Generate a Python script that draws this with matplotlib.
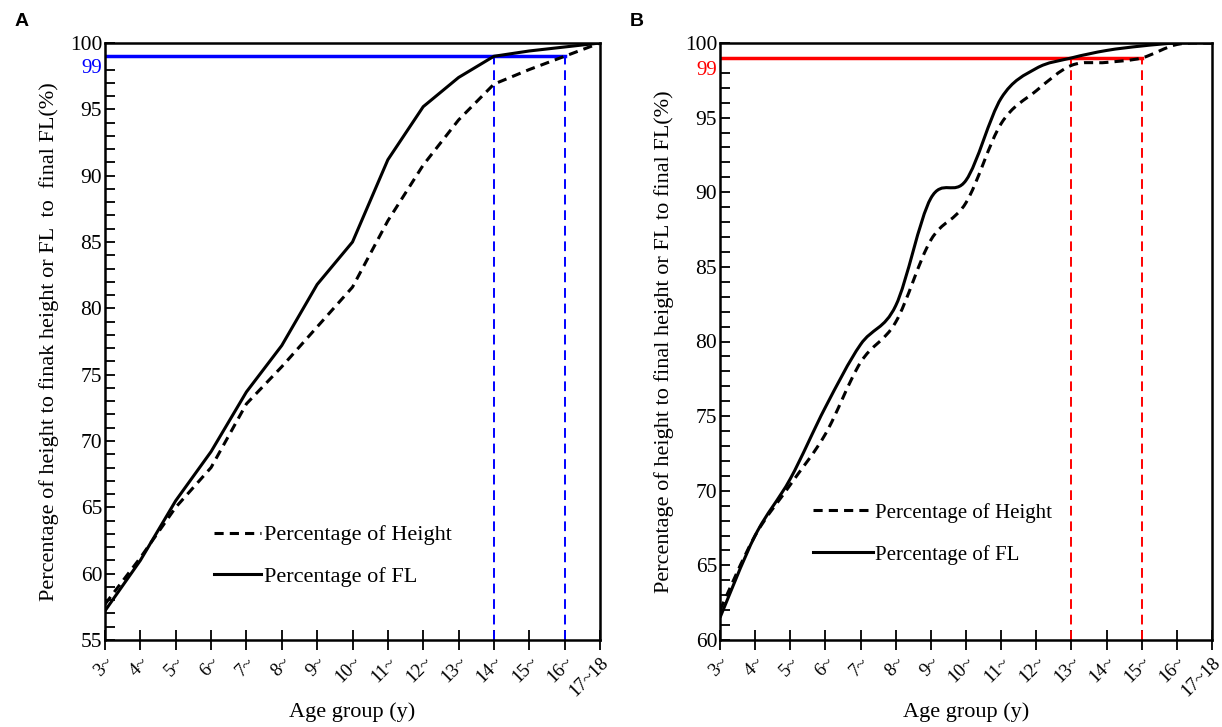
import matplotlib.pyplot as plt
from matplotlib.path import Path
from matplotlib.patches import PathPatch
from matplotlib.lines import Line2D
from matplotlib.ticker import MultipleLocator
import numpy as np

plt.rcParams['font.family'] = ['Liberation Serif', 'DejaVu Serif']

age_groups = ['3~', '4~', '5~', '6~', '7~', '8~', '9~', '10~', '11~', '12~',
              '13~', '14~', '15~', '16~', '17~18']

# panel A
height_a = [57.7, 61.2, 65.0, 68.0, 72.8, 75.6, 78.6, 81.6, 86.6, 90.8, 94.2, 96.9, 98.0, 99.0, 100.0]
fl_a = [57.2, 61.0, 65.5, 69.2, 73.7, 77.2, 81.8, 85.0, 91.2, 95.2, 97.4, 99.0, 99.4, 99.7, 100.0]
cut_a = [11, 13]          # 14~ and 16~

# panel B
height_b = [62.0, 67.0, 70.4, 73.8, 78.6, 81.3, 86.8, 89.3, 94.6, 96.8, 98.5, 98.7, 99.0, 99.9, 100.0]
fl_b = [61.5, 67.0, 70.8, 75.6, 79.8, 82.4, 89.6, 90.8, 96.3, 98.3, 99.0, 99.5, 99.8, 100.0, 100.0]
cut_b = [10, 12]          # 13~ and 15~

legend_labels = ['Percentage of Height', 'Percentage of FL']


def smooth_path(x, y):
    # Catmull-Rom style smoothing turned into cubic bezier segments
    p = np.column_stack([x, y]).astype(float)
    n = len(p)
    verts = [p[0]]
    codes = [Path.MOVETO]
    for i in range(n - 1):
        p0 = p[i - 1] if i > 0 else p[i]
        p3 = p[i + 2] if i + 2 < n else p[i + 1]
        c1 = p[i] + (p[i + 1] - p0) / 6
        c2 = p[i + 1] - (p3 - p[i]) / 6
        verts += [c1, c2, p[i + 1]]
        codes += [Path.CURVE4] * 3
    return Path(verts, codes)


def draw_panel(ax, height, fl, cut, ymin, guide_color, ylabel, smooth):
    x = np.arange(len(age_groups))
    if smooth:
        ax.add_patch(PathPatch(smooth_path(x, height), fill=False, color='black',
                               lw=2.2, linestyle=(0, (3, 2)), zorder=3))
        ax.add_patch(PathPatch(smooth_path(x, fl), fill=False, color='black',
                               lw=2.2, zorder=3))
    else:
        ax.plot(x, height, color='black', lw=2.2, linestyle=(0, (3, 2)), zorder=3)
        ax.plot(x, fl, color='black', lw=2.2, zorder=3)

    # 99% guide lines
    ax.plot([0, cut[1]], [99, 99], color=guide_color, lw=2.5, zorder=2)
    for c in cut:
        ax.plot([c, c], [ymin, 99], color=guide_color, lw=1.4,
                linestyle=(0, (5, 3)), zorder=2)
    ax.annotate('99', xy=(0, 99), xycoords=('axes fraction', 'data'),
                xytext=(-2, -9), textcoords='offset points', ha='right',
                va='center', color=guide_color, fontsize=15)

    ax.set_xlim(0, len(age_groups) - 1)
    ax.set_ylim(ymin, 100)
    ax.set_xticks(x)
    ax.set_xticklabels(age_groups, rotation=45, ha='right', rotation_mode='anchor',
                       fontsize=13.5)
    ax.set_yticks(range(ymin, 101, 5))
    ax.yaxis.set_minor_locator(MultipleLocator(1))
    ax.tick_params(axis='y', which='both', direction='in', length=7, width=1.3,
                   labelsize=15.5, pad=2)
    ax.tick_params(axis='x', direction='inout', length=14, width=1.3, pad=3)
    for s in ax.spines.values():
        s.set_linewidth(1.8)
    ax.set_xlabel('Age group (y)', fontsize=16, labelpad=2)
    ax.set_ylabel(ylabel, fontsize=16, labelpad=8)

    handles = [Line2D([], [], color='black', lw=2.2, linestyle=(0, (3, 2))),
               Line2D([], [], color='black', lw=2.2)]
    return handles


fig = plt.figure(figsize=(12.22, 7.27), dpi=100)
ax_a = fig.add_axes([105 / 1222, 87 / 727, 495 / 1222, 597 / 727])
ax_b = fig.add_axes([720 / 1222, 87 / 727, 492 / 1222, 597 / 727])

h = draw_panel(ax_a, height_a, fl_a, cut_a, 55, '#0000ff',
               'Percentage of height to finak height or FL  to  final FL(%)', False)
ax_a.legend(h, legend_labels, loc='lower left', bbox_to_anchor=(0.18, 0.055),
            frameon=False, fontsize=16, handlelength=2.1, handletextpad=0.15,
            labelspacing=0.95)

h = draw_panel(ax_b, height_b, fl_b, cut_b, 60, '#ff0000',
               'Percentage of height to final height or FL to final FL(%)', True)
ax_b.legend(h, legend_labels, loc='lower left', bbox_to_anchor=(0.15, 0.095),
            frameon=False, fontsize=15, handlelength=2.9, handletextpad=0.1,
            labelspacing=1.05)

fig.text(15 / 1222, 1 - 22 / 727, 'A', fontsize=14, fontweight='bold',
         family='Liberation Sans', va='center')
fig.text(630 / 1222, 1 - 22 / 727, 'B', fontsize=14, fontweight='bold',
         family='Liberation Sans', va='center')

fig.savefig('out.png', dpi=100)
